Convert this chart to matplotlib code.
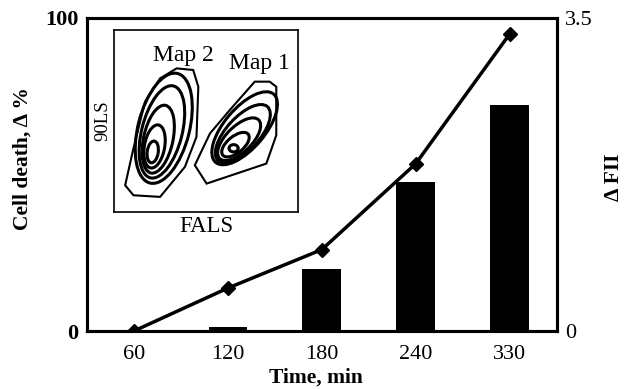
import matplotlib
matplotlib.use("Agg")
import matplotlib.pyplot as plt
from matplotlib.patches import Polygon, Ellipse

plt.rcParams['font.family'] = ['Liberation Serif', 'DejaVu Serif']

# main data
times = ['60', '120', '180', '240', '330']
cell_death = [0, 1.3, 19.8, 47.6, 72.2]      # %, bars, left axis
delta_fii = [0.0, 0.48, 0.91, 1.87, 3.32]   # line, right axis

# inset (FALS vs 90LS, arbitrary 0-100 units)
map2_poly_x = [6, 10.5, 25, 38.5, 44.8, 45.8, 43, 34, 25, 16.8, 10.5]
map2_poly_y = [14.7, 9.2, 8.3, 24.8, 41.3, 68.8, 78, 78.9, 73.4, 60.6, 34.9]
map1_poly_x = [43.9, 50.3, 82.8, 88.2, 88.2, 84.6, 76.5, 62.9, 52.1]
map1_poly_y = [25.7, 15.6, 26.6, 42.2, 68.8, 71.6, 71.6, 56, 43.1]

map2_cx = [21, 22, 24, 26, 27]
map2_cy = [33, 36, 40, 44, 46]
map2_w = [6, 11, 16, 22, 28]
map2_h = [12, 24, 38, 52, 62]
map2_ang = [-8, -10, -12, -14, -14]

map1_cx = [65, 66, 68, 70, 71]
map1_cy = [35, 37, 40, 43, 46]
map1_w = [5, 18, 30, 40, 49]
map1_h = [4, 9, 14, 18, 22]
map1_ang = [0, 40, 45, 48, 50]

fig = plt.figure(figsize=(6.34, 3.89), dpi=100)
ax = fig.add_axes([0.137, 0.149, 0.741, 0.805])
x = list(range(len(times)))
ax.bar(x, cell_death, width=0.41, color='black')
ax.set_xlim(-0.5, 4.5)
ax.set_ylim(0, 100)
ax.set_xticks(x)
ax.set_xticklabels(times, fontsize=16)
ax.set_yticks([0, 100])
ax.set_yticklabels(['0', '100'], fontsize=16, fontweight='bold')
ax.tick_params(axis='y', length=0, pad=6)
ax.tick_params(axis='x', length=0, pad=10)
ax.set_xlabel('Time, min', fontsize=15.5, fontweight='bold')
ax.xaxis.set_label_coords(0.487, -0.118)
ax.set_ylabel('Cell death, \u0394 %', fontsize=15.5, fontweight='bold')
ax.yaxis.set_label_coords(-0.115, 0.55)
for s in ax.spines.values():
    s.set_linewidth(2.2)

ax2 = ax.twinx()
ax2.plot(x, delta_fii, color='black', lw=2.5, marker='D', ms=7, zorder=5)
ax2.set_ylim(0, 3.5)
ax2.set_yticks([0, 3.5])
ax2.set_yticklabels(['0', '3.5'], fontsize=16)
ax2.tick_params(length=0, pad=6)
ax2.set_ylabel('\u0394 FII', fontsize=15.5, fontweight='bold', rotation=90)
ax2.yaxis.set_label_coords(1.10, 0.49)
for s in ax2.spines.values():
    s.set_linewidth(2.2)

# inset
ins = fig.add_axes([0.18, 0.455, 0.29, 0.468])
ins.set_xlim(0, 100)
ins.set_ylim(0, 100)
ins.set_xticks([])
ins.set_yticks([])
for s in ins.spines.values():
    s.set_linewidth(1.2)
ins.set_xlabel('FALS', fontsize=16.5, labelpad=3)
ins.set_ylabel('90LS', fontsize=13.5, labelpad=2)

ins.add_patch(Polygon(list(zip(map2_poly_x, map2_poly_y)), closed=True,
                      fill=False, lw=1.5, ec='black'))
ins.add_patch(Polygon(list(zip(map1_poly_x, map1_poly_y)), closed=True,
                      fill=False, lw=1.5, ec='black'))
for i in range(len(map2_cx)):
    ins.add_patch(Ellipse((map2_cx[i], map2_cy[i]), map2_w[i], map2_h[i],
                          angle=map2_ang[i], fill=False, lw=2.2, ec='black'))
for i in range(len(map1_cx)):
    ins.add_patch(Ellipse((map1_cx[i], map1_cy[i]), map1_w[i], map1_h[i],
                          angle=map1_ang[i], fill=False, lw=2.2, ec='black'))
ins.text(37.6, 86, 'Map 2', fontsize=17, ha='center', va='center')
ins.text(79, 81.7, 'Map 1', fontsize=17, ha='center', va='center')

fig.savefig('out.png', dpi=100)
